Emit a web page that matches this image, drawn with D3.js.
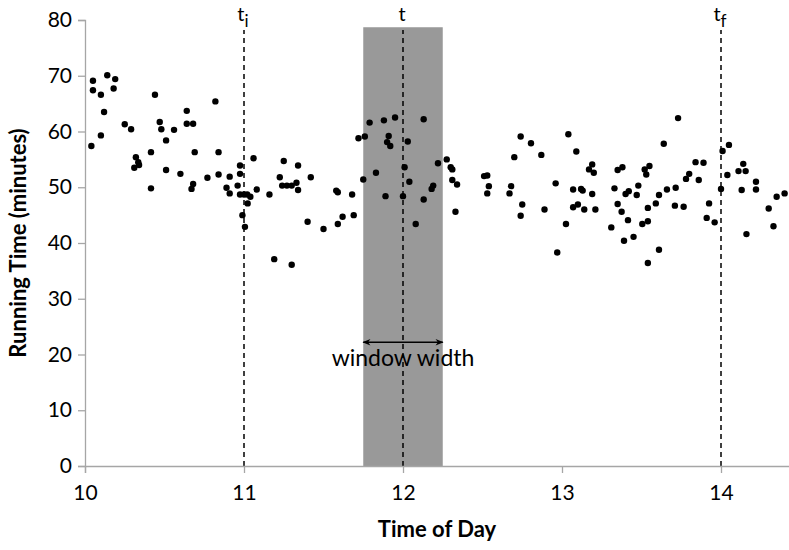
<!DOCTYPE html>
<html>
<head>
<meta charset="utf-8">
<script src="https://cdn.jsdelivr.net/npm/d3@7"></script>
<style>
  html, body { margin: 0; padding: 0; background: #fff; }
  svg { display: block; font-family: Lato, "Open Sans", sans-serif; }
</style>
</head>
<body>
<svg id="chart" width="789" height="550"></svg>
<script>
// Observed run times: time of day (hours) and running time (minutes)
const timeOfDay = [
  10.04, 10.05, 10.05, 10.10, 10.10, 10.12, 10.14, 10.18, 10.19, 10.25,
  10.29, 10.31, 10.32, 10.34, 10.335, 10.415, 10.415, 10.44, 10.47, 10.48,
  10.51, 10.51, 10.56, 10.60, 10.64, 10.64, 10.68, 10.67, 10.68, 10.69,
  10.77, 10.82, 10.84, 10.84, 10.89, 10.91, 10.91, 10.96, 10.975, 10.975,
  10.975, 11.00, 11.02, 11.04, 10.99, 11.006, 11.023, 11.06, 11.08, 11.16,
  11.19, 11.225, 11.24, 11.25, 11.27, 11.30, 11.30, 11.33, 11.34, 11.34,
  11.40, 11.42, 11.50, 11.58, 11.59, 11.59, 11.62, 11.68, 11.69, 11.72,
  11.75, 11.76, 11.79, 11.83, 11.88, 11.89, 11.90, 11.91, 11.92, 11.95,
  12.00, 12.01, 12.03, 12.04, 12.08, 12.13, 12.13, 12.18, 12.19, 12.22,
  12.275, 12.30, 12.31, 12.31, 12.33, 12.34, 12.51, 12.53, 12.53, 12.54,
  12.67, 12.68, 12.70, 12.74, 12.74, 12.75, 12.805, 12.87, 12.89, 12.96,
  12.97, 13.025, 13.04, 13.07, 13.07, 13.09, 13.10, 13.12, 13.13, 13.14,
  13.17, 13.19, 13.19, 13.20, 13.21, 13.31, 13.33, 13.35, 13.35, 13.375,
  13.38, 13.39, 13.40, 13.415, 13.42, 13.45, 13.47, 13.48, 13.505, 13.52,
  13.53, 13.54, 13.54, 13.54, 13.55, 13.59, 13.61, 13.61, 13.64, 13.66,
  13.71, 13.715, 13.73, 13.765, 13.78, 13.80, 13.84, 13.86, 13.89, 13.91,
  13.925, 13.96, 14.00, 14.01, 14.04, 14.05, 14.11, 14.13, 14.14, 14.155,
  14.16, 14.22, 14.22, 14.30, 14.33, 14.35, 14.40
];
const runningTime = [
  57.4, 69.1, 67.4, 66.6, 59.3, 63.5, 70.1, 67.7, 69.4, 61.3,
  60.4, 53.5, 55.4, 54.0, 54.5, 56.3, 49.8, 66.6, 61.7, 60.4,
  58.4, 53.1, 60.3, 52.4, 63.7, 61.4, 61.4, 49.7, 50.6, 56.3,
  51.7, 65.4, 56.3, 52.3, 49.9, 51.9, 48.9, 50.3, 53.9, 52.4,
  48.7, 48.7, 48.7, 48.3, 45.0, 42.9, 47.1, 55.2, 49.6, 48.7,
  37.1, 51.8, 50.3, 54.7, 50.3, 50.3, 36.1, 50.8, 53.9, 49.5,
  43.8, 51.8, 42.5, 49.4, 49.1, 43.4, 44.7, 48.7, 45.0, 58.8,
  51.4, 59.1, 61.6, 52.6, 62.0, 48.4, 58.1, 59.2, 57.4, 62.5,
  48.4, 53.6, 58.2, 51.0, 43.4, 47.8, 62.2, 49.7, 50.3, 54.3,
  55.0, 53.6, 53.2, 51.3, 45.6, 50.5, 52.0, 52.1, 48.9, 50.2,
  48.9, 50.2, 55.4, 59.1, 44.9, 46.9, 57.9, 55.8, 46.0, 50.7,
  38.3, 43.4, 59.5, 49.6, 46.4, 56.4, 46.9, 49.7, 49.4, 46.0,
  53.2, 54.1, 48.8, 52.6, 46.0, 42.8, 49.8, 53.1, 47.0, 45.6,
  53.6, 40.4, 48.8, 44.1, 49.3, 41.1, 48.6, 50.3, 43.4, 53.2,
  52.3, 46.3, 43.9, 36.4, 53.8, 47.1, 48.6, 38.8, 57.8, 49.6,
  46.7, 49.9, 62.4, 46.5, 51.5, 52.4, 54.5, 51.3, 54.4, 44.5,
  47.1, 43.7, 49.7, 56.5, 52.2, 57.6, 52.9, 49.5, 54.2, 52.9,
  41.6, 51.0, 49.6, 46.2, 43.0, 48.3, 48.9
];

// Axis ticks
const xTicks = [10, 11, 12, 13, 14];
const yTicks = [0, 10, 20, 30, 40, 50, 60, 70, 80];

// Reference times marked by dashed lines, and the moving window around t
const markerTimes = [11, 12, 14];
const markerNames = ["t", "t", "t"];
const markerSubs = ["i", "", "f"];
const windowCenter = 12;
const windowWidth = 0.5;
const markerTop = 78.2;
const windowTop = 78.7;
const arrowLevel = 22.2;
const labelLevel = 17.9;

const svg = d3.select("#chart");
const axisColor = "#a6a6a6";

const x = d3.scaleLinear().domain([10, 14.5]).range([85, 800.5]);
const y = d3.scaleLinear().domain([0, 80]).range([466, 20]);

const data = timeOfDay.map((t, i) => ({ t, m: runningTime[i] }));

// Shaded window
svg.append("rect")
  .attr("x", x(windowCenter - windowWidth / 2))
  .attr("y", y(windowTop))
  .attr("width", x(windowCenter + windowWidth / 2) - x(windowCenter - windowWidth / 2))
  .attr("height", y(0) - y(windowTop))
  .attr("fill", "#999999");

// Dashed reference lines
svg.append("g").selectAll("line")
  .data(markerTimes)
  .join("line")
  .attr("x1", d => x(d)).attr("x2", d => x(d))
  .attr("y1", y(0)).attr("y2", y(markerTop))
  .attr("stroke", "#000")
  .attr("stroke-width", 1.5)
  .attr("stroke-dasharray", "5,4");

// Marker labels with subscripts
const lbl = svg.append("g").selectAll("text")
  .data(markerTimes)
  .join("text")
  .attr("x", d => x(d) - 1)
  .attr("y", 21)
  .attr("text-anchor", "middle")
  .attr("font-size", 20)
  .attr("fill", "#000");
lbl.append("tspan").text((d, i) => markerNames[i]);
lbl.append("tspan")
  .attr("dy", 6)
  .attr("font-size", 17)
  .text((d, i) => markerSubs[i]);

// Y axis
const yAxis = svg.append("g")
  .attr("transform", `translate(${x(10)},0)`)
  .call(d3.axisLeft(y).tickValues(yTicks).tickSize(7).tickPadding(6).tickFormat(d3.format("d")));
yAxis.select(".domain").attr("stroke", axisColor).attr("stroke-width", 1.3);
yAxis.selectAll(".tick line").attr("stroke", axisColor).attr("stroke-width", 1.3);
yAxis.selectAll(".tick text").attr("font-size", 21).attr("fill", "#000")
  .attr("font-family", "Lato, sans-serif");

// X axis
const xAxis = svg.append("g")
  .attr("transform", `translate(0,${y(0)})`)
  .call(d3.axisBottom(x).tickValues(xTicks).tickSize(7).tickPadding(12).tickFormat(d3.format("d")));
xAxis.select(".domain").attr("stroke", axisColor).attr("stroke-width", 1.3);
xAxis.selectAll(".tick line").attr("stroke", axisColor).attr("stroke-width", 1.3);
xAxis.selectAll(".tick text").attr("font-size", 21).attr("fill", "#000")
  .attr("font-family", "Lato, sans-serif");

// Data points
svg.append("g").selectAll("circle")
  .data(data)
  .join("circle")
  .attr("cx", d => x(d.t))
  .attr("cy", d => y(d.m))
  .attr("r", 3.2)
  .attr("fill", "#000");

// Window width arrow
const defs = svg.append("defs");
defs.append("marker")
  .attr("id", "arrowhead")
  .attr("viewBox", "0 0 10 10")
  .attr("refX", 9).attr("refY", 5)
  .attr("markerWidth", 10).attr("markerHeight", 8)
  .attr("markerUnits", "userSpaceOnUse")
  .attr("orient", "auto-start-reverse")
  .append("path")
  .attr("d", "M0,1 L10,5 L0,9 L3,5 Z")
  .attr("fill", "#000");

svg.append("line")
  .attr("x1", x(windowCenter - windowWidth / 2))
  .attr("x2", x(windowCenter + windowWidth / 2))
  .attr("y1", y(arrowLevel)).attr("y2", y(arrowLevel))
  .attr("stroke", "#000")
  .attr("stroke-width", 1.5)
  .attr("marker-start", "url(#arrowhead)")
  .attr("marker-end", "url(#arrowhead)");

svg.append("text")
  .attr("x", x(windowCenter))
  .attr("y", y(labelLevel))
  .attr("text-anchor", "middle")
  .attr("font-size", 23)
  .attr("fill", "#000")
  .text("window width");

// Axis titles
svg.append("text")
  .attr("transform", `translate(26,${(y(0) + y(80)) / 2}) rotate(-90)`)
  .attr("text-anchor", "middle")
  .attr("font-size", 22)
  .attr("font-weight", "bold")
  .attr("fill", "#000")
  .text("Running Time (minutes)");

svg.append("text")
  .attr("x", 437)
  .attr("y", 537)
  .attr("text-anchor", "middle")
  .attr("font-size", 22)
  .attr("font-weight", "bold")
  .attr("fill", "#000")
  .text("Time of Day");
</script>
</body>
</html>
